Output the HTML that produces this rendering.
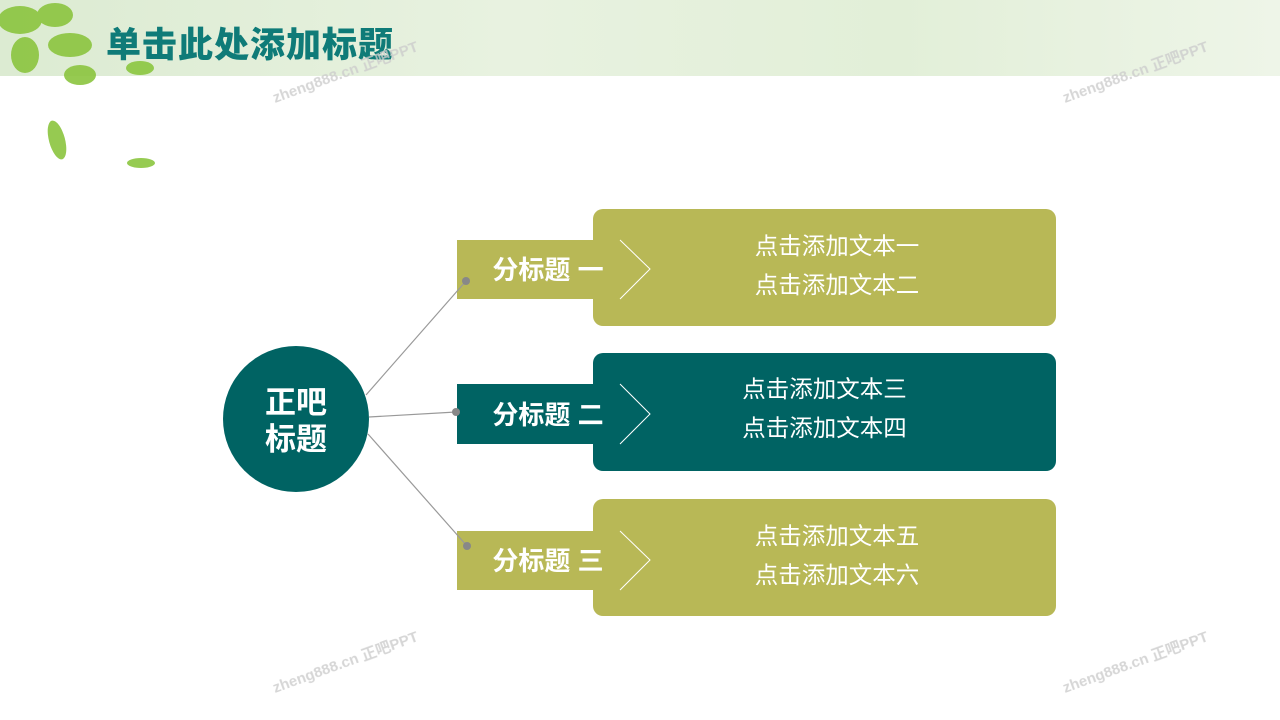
<!DOCTYPE html>
<html><head><meta charset="utf-8"><style>
body{margin:0;width:1280px;height:720px;background:#fff;position:relative;overflow:hidden;font-family:"Liberation Sans","Noto Sans CJK SC",sans-serif}
.hdr{position:absolute;left:0;top:0;width:1280px;height:76px;background:linear-gradient(90deg,#dcebd2,#e8f2e0 40%,#e2efd8 70%,#eef5e8)}
.title{position:absolute;left:106px;top:17px;font-size:35px;font-weight:900;color:#0f7b78;letter-spacing:1px}
.box{position:absolute;left:593px;width:463px;border-radius:10px;color:#fff;font-size:23.5px;line-height:39px;text-align:center;box-sizing:border-box}
.t{font-size:26px;font-weight:bold;fill:#fff}
</style></head><body>
<div class="hdr"></div>
<div class="title">单击此处添加标题</div>
<div class="box" style="top:209px;height:117px;background:#b8b856;padding:18px 0 0 25px">点击添加文本一<br>点击添加文本二</div>
<div class="box" style="top:353px;height:118px;background:#006363;padding:17px 0 0 0">点击添加文本三<br>点击添加文本四</div>
<div class="box" style="top:499px;height:117px;background:#b8b856;padding:18px 0 0 25px">点击添加文本五<br>点击添加文本六</div>
<svg width="1280" height="720" style="position:absolute;left:0;top:0">
<g fill="#8bc53f" opacity="0.9">
<ellipse cx="20" cy="20" rx="22" ry="14"/><ellipse cx="55" cy="15" rx="18" ry="12"/><ellipse cx="70" cy="45" rx="22" ry="12"/><ellipse cx="25" cy="55" rx="14" ry="18"/><ellipse cx="80" cy="75" rx="16" ry="10"/><ellipse cx="140" cy="68" rx="14" ry="7"/>
<ellipse cx="57" cy="140" rx="8" ry="20" transform="rotate(-15 57 140)"/><ellipse cx="141" cy="163" rx="14" ry="5"/>
</g>
<polygon points="457,240 620,240 650,269 620,299 457,299" fill="#b8b856"/>
<polyline points="620,240 650,269 620,299" fill="none" stroke="#fff" stroke-width="1"/>
<polygon points="457,384 620,384 650,414 620,444 457,444" fill="#006363"/>
<polyline points="620,384 650,414 620,444" fill="none" stroke="#fff" stroke-width="1"/>
<polygon points="457,531 620,531 650,560 620,590 457,590" fill="#b8b856"/>
<polyline points="620,531 650,560 620,590" fill="none" stroke="#fff" stroke-width="1"/>
<text x="548" y="279" class="t" text-anchor="middle">分标题 一</text>
<text x="548" y="424" class="t" text-anchor="middle">分标题 二</text>
<text x="548" y="570" class="t" text-anchor="middle">分标题 三</text>
<g stroke="#999" stroke-width="1.2"><line x1="366" y1="395" x2="466" y2="281"/><line x1="369" y1="417" x2="456" y2="412"/><line x1="368" y1="434" x2="467" y2="546"/></g>
<g fill="#888"><circle cx="466" cy="281" r="4"/><circle cx="456" cy="412" r="4"/><circle cx="467" cy="546" r="4"/></g>
<circle cx="296" cy="419" r="73" fill="#006363"/>
<text x="296" y="413" class="t" text-anchor="middle" style="font-size:31px">正吧</text>
<text x="296" y="450" class="t" text-anchor="middle" style="font-size:31px">标题</text>
<g fill="#ccc" font-size="15" font-weight="bold" opacity="0.8">
<text x="275" y="103" transform="rotate(-20 275 103)">zheng888.cn 正吧PPT</text>
<text x="1065" y="103" transform="rotate(-20 1065 103)">zheng888.cn 正吧PPT</text>
<text x="275" y="693" transform="rotate(-20 275 693)">zheng888.cn 正吧PPT</text>
<text x="1065" y="693" transform="rotate(-20 1065 693)">zheng888.cn 正吧PPT</text>
</g>
</svg>
</body></html>
